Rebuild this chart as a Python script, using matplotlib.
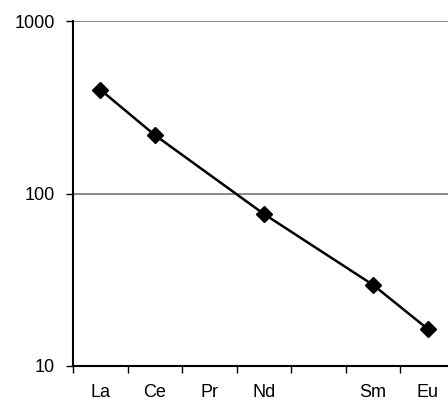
import numpy as np
from matplotlib import pyplot as plt
from matplotlib.ticker import FixedLocator, NullLocator

plt.rcParams['font.family'] = ['Liberation Sans', 'DejaVu Sans']

elements = ["La", "Ce", "Pr", "Nd", "", "Sm", "Eu"]
# Pr and Pm have no analysis
values = [400, 218, np.nan, 76, np.nan, 29.5, 16.4]

fig = plt.figure(figsize=(4.48, 4.07), dpi=100)
ax = fig.add_axes([73 / 448, 41 / 407, 382 / 448, 345 / 407])

x = np.arange(len(elements))
y = np.array(values)
ok = ~np.isnan(y)
ax.plot(x[ok], y[ok], color="black", lw=1.8, marker="D", ms=8,
        markerfacecolor="black", markeredgecolor="black")

ax.set_yscale("log")
ax.set_ylim(10, 1000)
ax.set_xlim(-0.5, len(elements) - 0.5)
ax.yaxis.set_major_locator(FixedLocator([10, 100, 1000]))
ax.yaxis.set_minor_locator(NullLocator())
ax.set_yticklabels(["10", "100", "1000"])
ax.grid(axis="y", color="#808080", lw=1.3)
ax.set_axisbelow(True)

ax.set_xticks(x)
ax.set_xticklabels(elements)
ax.set_xticks(np.arange(len(elements) + 1) - 0.5, minor=True)
ax.tick_params(axis="x", which="major", length=0, pad=13, labelsize=13)
ax.tick_params(axis="x", which="minor", length=5, width=1, direction="out")
ax.tick_params(axis="y", length=5, width=1, labelsize=13, pad=8)

for s in ["top", "right"]:
    ax.spines[s].set_visible(False)
ax.spines["left"].set_linewidth(1.5)
ax.spines["bottom"].set_linewidth(1.5)

fig.savefig("out.png", dpi=100)
